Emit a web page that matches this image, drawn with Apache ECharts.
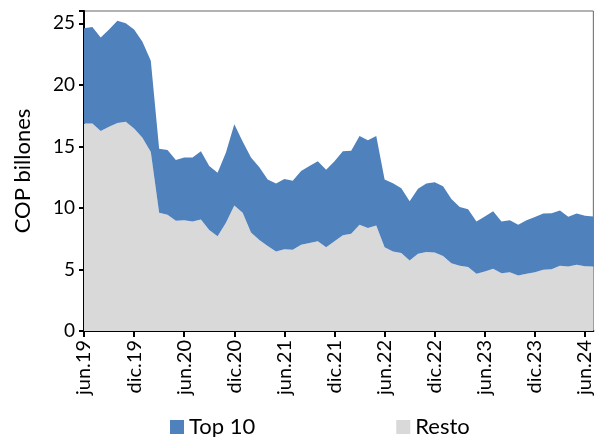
<!DOCTYPE html>
<html>
<head>
<meta charset="utf-8">
<script src="https://cdn.jsdelivr.net/npm/echarts@6/dist/echarts.min.js"></script>
<style>
html,body{margin:0;padding:0;background:#fff;}
#chart{width:595px;height:437px;}
</style>
</head>
<body>
<div id="chart"></div>
<script>
var meses = ['ene','feb','mar','abr','may','jun','jul','ago','sep','oct','nov','dic'];
var categorias = [];
for (var a = 19; a <= 24; a++) {
	for (var m = 0; m < 12; m++) {
		if (a == 19 && m < 5) continue;
		if (a == 24 && m > 6) continue;
		categorias.push(meses[m] + '.' + a);
	}
}
var resto = [16.85,16.85,16.25,16.6,16.9,17.0,16.45,15.7,14.55,9.6,9.45,8.95,9.0,8.9,9.05,8.2,7.7,8.8,10.2,9.6,
	8.0,7.4,6.9,6.45,6.65,6.6,7.0,7.15,7.3,6.8,7.3,7.77,7.9,8.64,8.37,8.58,6.8,6.46,6.33,5.73,
	6.27,6.41,6.38,6.1,5.5,5.3,5.19,4.65,4.84,5.05,4.7,4.78,4.5,4.65,4.78,4.97,5.02,5.3,5.24,5.38,
	5.27,5.24];
var top10 = [7.75,7.85,7.6,7.9,8.3,8.0,8.05,7.8,7.4,5.2,5.25,4.95,5.1,5.2,5.55,5.2,5.15,5.7,6.6,5.8,
	6.1,5.9,5.4,5.53,5.71,5.6,6.0,6.25,6.5,6.3,6.5,6.83,6.75,7.21,7.13,7.27,5.5,5.54,5.27,4.82,
	5.28,5.57,5.71,5.66,5.23,4.78,4.71,4.25,4.46,4.67,4.2,4.22,4.14,4.35,4.49,4.57,4.54,4.5,4.05,4.16,
	4.1,4.06];
var fuente = 'Lato';

var myChart = echarts.init(document.getElementById('chart'));
var option = {
	animation: false,
	textStyle: {fontFamily: fuente},
	legend: {
		data: ['Top 10', 'Resto'],
		left: 165,
		top: 411,
		itemGap: 141,
		itemWidth: 14,
		itemHeight: 14,
		icon: 'rect',
		textStyle: {fontSize: 22, color: '#000', fontFamily: fuente}
	},
	grid: {
		left: 84,
		right: 1,
		top: 11,
		bottom: 106,
		show: true,
		borderColor: '#666',
		borderWidth: 1
	},
	xAxis: {
		type: 'category',
		boundaryGap: false,
		data: categorias,
		axisLine: {lineStyle: {color: '#000', width: 2}},
		axisTick: {interval: 5, length: 6, lineStyle: {color: '#000', width: 2}},
		axisLabel: {interval: 5, rotate: 90, fontSize: 20, color: '#000', margin: 9, fontFamily: fuente}
	},
	yAxis: {
		type: 'value',
		min: 0,
		max: 26,
		interval: 5,
		name: 'COP billones',
		nameLocation: 'middle',
		nameGap: 50,
		nameTextStyle: {fontSize: 22, color: '#000', fontFamily: fuente},
		axisLine: {show: true, lineStyle: {color: '#000', width: 2}},
		axisTick: {show: true, length: 5, lineStyle: {color: '#000', width: 2}},
		axisLabel: {fontSize: 19, color: '#000', margin: 9, fontFamily: fuente,
			formatter: function(v){ return v > 25 ? '' : v; }},
		splitLine: {show: false}
	},
	series: [
		{
			name: 'Resto',
			type: 'line',
			stack: 'total',
			data: resto,
			symbol: 'none',
			lineStyle: {width: 0},
			areaStyle: {color: '#D9D9D9', opacity: 1},
			itemStyle: {color: '#D9D9D9'}
		},
		{
			name: 'Top 10',
			type: 'line',
			stack: 'total',
			data: top10,
			symbol: 'none',
			lineStyle: {width: 0},
			areaStyle: {color: '#4F81BD', opacity: 1},
			itemStyle: {color: '#4F81BD'}
		}
	]
};
myChart.setOption(option);
</script>
</body>
</html>
